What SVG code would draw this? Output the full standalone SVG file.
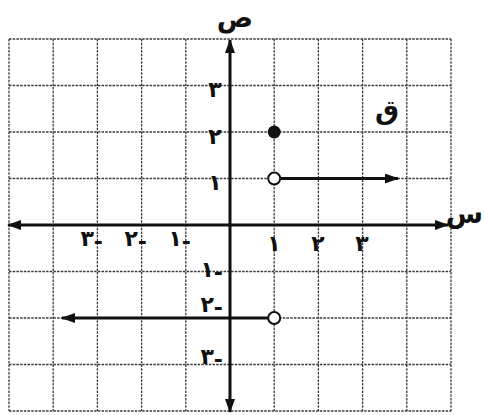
<svg xmlns="http://www.w3.org/2000/svg" width="484" height="415" viewBox="0 0 484 415">
<style>
.grid line{stroke:#3a3a3a;stroke-width:1.3;stroke-dasharray:2.5 1.2}
.axis{stroke:#111;stroke-width:3;fill:none}
.lbl{font-family:"DejaVu Sans",sans-serif;font-size:22px;font-weight:bold;fill:#111}
.big{font-family:"DejaVu Sans",sans-serif;font-size:27px;font-weight:bold;fill:#111}
</style>
<defs>
<marker id="ah" viewBox="0 0 14 10" refX="13" refY="5" markerWidth="14" markerHeight="10" markerUnits="userSpaceOnUse" orient="auto-start-reverse">
<path d="M0,0 L14,5 L0,10 Z" fill="#111"/>
</marker>
</defs>
<rect width="484" height="415" fill="#fff"/>
<g id="grid" class="grid">
<line x1="9" y1="39" x2="9" y2="411"/>
<line x1="53.2" y1="39" x2="53.2" y2="411"/>
<line x1="97.4" y1="39" x2="97.4" y2="411"/>
<line x1="141.6" y1="39" x2="141.6" y2="411"/>
<line x1="185.8" y1="39" x2="185.8" y2="411"/>
<line x1="274.2" y1="39" x2="274.2" y2="411"/>
<line x1="318.4" y1="39" x2="318.4" y2="411"/>
<line x1="362.6" y1="39" x2="362.6" y2="411"/>
<line x1="406.8" y1="39" x2="406.8" y2="411"/>
<line x1="451" y1="39" x2="451" y2="411"/>
<line x1="9" y1="39" x2="451" y2="39"/>
<line x1="9" y1="85.5" x2="451" y2="85.5"/>
<line x1="9" y1="132" x2="451" y2="132"/>
<line x1="9" y1="178.5" x2="451" y2="178.5"/>
<line x1="9" y1="271.5" x2="451" y2="271.5"/>
<line x1="9" y1="318" x2="451" y2="318"/>
<line x1="9" y1="364.5" x2="451" y2="364.5"/>
<line x1="9" y1="411" x2="451" y2="411"/>
</g>
<g id="connectors">
<line id="x-axis" class="axis" x1="8" y1="225" x2="448" y2="225" marker-start="url(#ah)" marker-end="url(#ah)"/>
<line id="y-axis" class="axis" x1="230" y1="40" x2="230" y2="412" marker-start="url(#ah)" marker-end="url(#ah)"/>
<line id="ray-top" class="axis" x1="280" y1="178.5" x2="398" y2="178.5" marker-end="url(#ah)"/>
<line id="ray-bottom" class="axis" x1="268" y1="318" x2="62" y2="318" marker-end="url(#ah)"/>
</g>
<g id="points">
<circle id="p-filled" cx="274.2" cy="132" r="6.5" fill="#111"/>
<circle id="p-open-1" cx="274.2" cy="178.5" r="6" fill="#fff" stroke="#111" stroke-width="2"/>
<circle id="p-open-2" cx="274.2" cy="318" r="6" fill="#fff" stroke="#111" stroke-width="2"/>
</g>
<g id="labels">
<text class="big" x="235" y="27" text-anchor="middle">ص</text>
<text class="big" x="483" y="223" text-anchor="end" font-size="24">س</text>
<text class="big" x="387" y="119" text-anchor="middle">ق</text>
<text class="lbl" x="215" y="97" text-anchor="middle">٣</text>
<text class="lbl" x="215" y="144" text-anchor="middle">٢</text>
<text class="lbl" x="215" y="190" text-anchor="middle">١</text>
<text class="lbl" x="274" y="251" text-anchor="middle">١</text>
<text class="lbl" x="318" y="251" text-anchor="middle">٢</text>
<text class="lbl" x="362" y="251" text-anchor="middle">٣</text>
<text class="lbl" x="103" y="246" text-anchor="end" direction="ltr" unicode-bidi="bidi-override">٣<tspan dy="3">-</tspan></text>
<text class="lbl" x="147" y="246" text-anchor="end" direction="ltr" unicode-bidi="bidi-override">٢<tspan dy="3">-</tspan></text>
<text class="lbl" x="191" y="246" text-anchor="end" direction="ltr" unicode-bidi="bidi-override">١<tspan dy="3">-</tspan></text>
<text class="lbl" x="223" y="277" text-anchor="end" direction="ltr" unicode-bidi="bidi-override">١<tspan dy="3">-</tspan></text>
<text class="lbl" x="223" y="312" text-anchor="end" direction="ltr" unicode-bidi="bidi-override">٢<tspan dy="3">-</tspan></text>
<text class="lbl" x="223" y="364" text-anchor="end" direction="ltr" unicode-bidi="bidi-override">٣<tspan dy="3">-</tspan></text>
</g>
</svg>
